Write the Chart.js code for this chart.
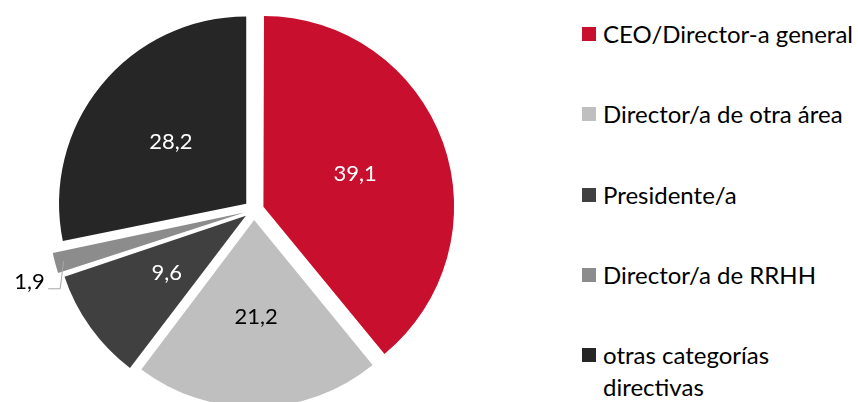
<!DOCTYPE html>
<html>
<head>
<meta charset="utf-8">
<script src="https://cdn.jsdelivr.net/npm/chart.js@4"></script>
<style>
  html, body { margin: 0; padding: 0; background: #fff; }
  body { width: 858px; height: 402px; overflow: hidden; position: relative; font-family: Lato, "Noto Sans", sans-serif; }
  #pieBox { position: absolute; left: 0; top: 0; width: 508px; height: 420px; }
  #legend { position: absolute; left: 582px; top: 0; margin: 0; padding: 0; list-style: none; }
  #legend li { position: absolute; left: 0; white-space: nowrap; font-size: 24px; line-height: 32px; color: #000; }
  #legend li span.box { position: absolute; left: 0; width: 14px; height: 14px; }
  #legend li span.txt { position: absolute; left: 21px; top: 0; }
</style>
</head>
<body>
<div id="pieBox"><canvas id="pie"></canvas></div>
<ul id="legend"></ul>
<script>
// datos del gráfico
const categorias = ['CEO/Director-a general', 'Director/a de otra área', 'Presidente/a', 'Director/a de RRHH', ['otras categorías', 'directivas']];
const valores = [39.1, 21.2, 9.6, 1.9, 28.2];
const colores = ['#C8102E', '#BFBFBF', '#404040', '#8C8C8C', '#262626'];
const colorTexto = ['#fff', '#000', '#fff', '#000', '#fff'];

const separacion = 10; // desplazamiento de cada sector en px
const radio = 187;

function formato(v) {
    return v.toFixed(1).replace('.', ',');
}

// etiquetas dentro de los sectores
const etiquetas = {
    id: 'etiquetas',
    afterDatasetsDraw(chart) {
        const ctx = chart.ctx;
        const arcs = chart.getDatasetMeta(0).data;
        ctx.save();
        ctx.font = '22px Lato, "Noto Sans", sans-serif';
        ctx.textBaseline = 'middle';
        arcs.forEach((arc, i) => {
            const p = arc.getProps(['x', 'y', 'startAngle', 'endAngle', 'outerRadius'], true);
            const mid = (p.startAngle + p.endAngle) / 2;
            const cx = p.x + Math.cos(mid) * separacion;
            const cy = p.y + Math.sin(mid) * separacion;
            const texto = formato(valores[i]);
            if (valores[i] < 5) {
                // etiqueta fuera con línea guía
                const ox = cx + Math.cos(mid) * p.outerRadius;
                const oy = cy + Math.sin(mid) * p.outerRadius;
                ctx.strokeStyle = '#A6A6A6';
                ctx.lineWidth = 1;
                ctx.beginPath();
                ctx.moveTo(ox, oy);
                ctx.lineTo(ox - 3.5, oy + 28);
                ctx.lineTo(ox - 15.5, oy + 28);
                ctx.stroke();
                ctx.fillStyle = '#000';
                ctx.textAlign = 'right';
                ctx.fillText(texto, ox - 19, oy + 21);
            } else {
                const d = p.outerRadius * 0.52;
                ctx.fillStyle = colorTexto[i];
                ctx.textAlign = 'center';
                ctx.fillText(texto, cx + Math.cos(mid) * d, cy + Math.sin(mid) * d);
            }
        });
        ctx.restore();
    }
};

new Chart(document.getElementById('pie'), {
    type: 'pie',
    data: {
        labels: categorias,
        datasets: [{
            data: valores,
            backgroundColor: colores,
            borderWidth: 0,
            offset: separacion * 4, // chart.js v4 divide el offset entre 4
            hoverOffset: 0
        }]
    },
    options: {
        responsive: true,
        maintainAspectRatio: false,
        animation: false,
        radius: radio,
        layout: { padding: 0 },
        events: [],
        plugins: {
            legend: { display: false },
            tooltip: { enabled: false }
        }
    },
    plugins: [etiquetas]
});

// leyenda
const filasY = [34, 114, 195, 275, 355];
const legend = document.getElementById('legend');
categorias.forEach((c, i) => {
    const li = document.createElement('li');
    li.style.top = (filasY[i] - 16) + 'px';
    const box = document.createElement('span');
    box.className = 'box';
    box.style.background = colores[i];
    box.style.top = '9px';
    const txt = document.createElement('span');
    txt.className = 'txt';
    txt.innerHTML = Array.isArray(c) ? c.join('<br>') : c;
    li.appendChild(box);
    li.appendChild(txt);
    legend.appendChild(li);
});
</script>
</body>
</html>
